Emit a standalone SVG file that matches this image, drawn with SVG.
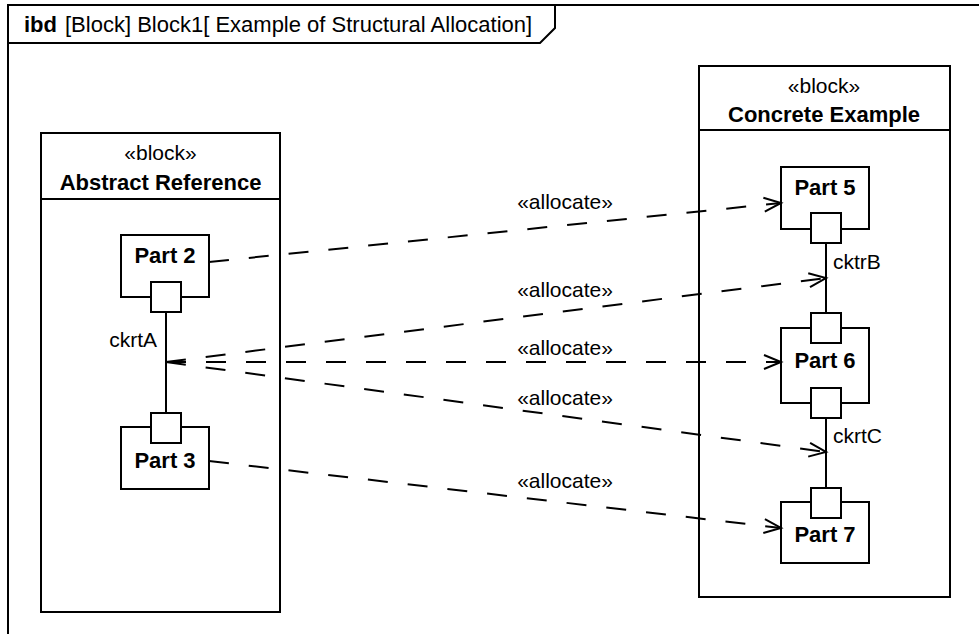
<svg xmlns="http://www.w3.org/2000/svg" width="979" height="634" viewBox="0 0 979 634">
  <style>
    .box { fill: #fff; stroke: #000; stroke-width: 2; }
    .ln { fill: none; stroke: #000; stroke-width: 2; }
    .dash { fill: none; stroke: #000; stroke-width: 2; stroke-dasharray: 20 20; }
    .t { font-family: "Liberation Sans", Arial, sans-serif; font-size: 21px; fill: #000; }
    .b { font-family: "Liberation Sans", Arial, sans-serif; font-size: 22px; font-weight: bold; fill: #000; }
    .c { text-anchor: middle; }
  </style>
  <defs>
    <marker id="open" markerUnits="userSpaceOnUse" markerWidth="24" markerHeight="20" viewBox="-20 -10 24 20" refX="0" refY="0" orient="auto">
      <path d="M-17,-7 L0,0 L-17,7" fill="none" stroke="#000" stroke-width="2"/>
    </marker>
  </defs>
  <rect width="979" height="634" fill="#fff"/>

  <g id="frame">
    <rect x="8" y="5" width="1000" height="1000" fill="none" stroke="#000" stroke-width="2"/>
    <path class="ln" d="M8,43 H540 L555,28 V5"/>
    <text class="b" x="24" y="32">ibd</text>
    <text class="t" x="65" y="32" style="font-size:22px">[Block] Block1[ Example of Structural Allocation]</text>
  </g>

  <g id="abstract-reference">
    <rect class="box" x="41" y="133" width="239" height="479"/>
    <line class="ln" x1="41" y1="199" x2="280" y2="199"/>
    <text class="t c" x="160.5" y="160">«block»</text>
    <text class="b c" x="160.5" y="190">Abstract Reference</text>
  </g>

  <g id="part2">
    <rect class="box" x="121" y="235" width="88" height="62"/>
    <rect class="box" x="151" y="282" width="30" height="30"/>
    <text class="b c" x="165" y="263">Part 2</text>
  </g>

  <g id="part3">
    <rect class="box" x="121" y="427" width="88" height="62"/>
    <rect class="box" x="151" y="413" width="30" height="30"/>
    <text class="b c" x="165" y="468">Part 3</text>
  </g>

  <g id="concrete-example">
    <rect class="box" x="699" y="66" width="251" height="531"/>
    <line class="ln" x1="699" y1="130" x2="950" y2="130"/>
    <text class="t c" x="824" y="93">«block»</text>
    <text class="b c" x="824" y="122">Concrete Example</text>
  </g>

  <g id="part5">
    <rect class="box" x="781" y="167" width="88" height="62"/>
    <rect class="box" x="811" y="213" width="30" height="30"/>
    <text class="b c" x="825" y="195">Part 5</text>
  </g>

  <g id="part6">
    <rect class="box" x="781" y="328" width="88" height="75"/>
    <rect class="box" x="811" y="313" width="30" height="30"/>
    <rect class="box" x="811" y="388" width="30" height="30"/>
    <text class="b c" x="825" y="368">Part 6</text>
  </g>

  <g id="part7">
    <rect class="box" x="781" y="502" width="88" height="61"/>
    <rect class="box" x="811" y="488" width="30" height="30"/>
    <text class="b c" x="825" y="542">Part 7</text>
  </g>

  <g id="connectors">
    <line class="ln" x1="166" y1="312" x2="166" y2="413"/>
    <text class="t" x="157" y="347" text-anchor="end">ckrtA</text>
    <line class="ln" x1="826" y1="243" x2="826" y2="313"/>
    <text class="t" x="833" y="269">cktrB</text>
    <line class="ln" x1="826" y1="418" x2="826" y2="488"/>
    <text class="t" x="833" y="443">ckrtC</text>

    <line class="dash" x1="209" y1="262" x2="781" y2="203" marker-end="url(#open)"/>
    <text class="t c" x="565" y="209">«allocate»</text>
    <line class="dash" x1="166" y1="362" x2="826" y2="278" marker-end="url(#open)"/>
    <text class="t c" x="565" y="297">«allocate»</text>
    <line class="dash" x1="166" y1="362" x2="781" y2="362" marker-end="url(#open)"/>
    <text class="t c" x="565" y="355">«allocate»</text>
    <line class="dash" x1="166" y1="362" x2="826" y2="452" marker-end="url(#open)"/>
    <text class="t c" x="565" y="405">«allocate»</text>
    <line class="dash" x1="209" y1="461" x2="781" y2="528" marker-end="url(#open)"/>
    <text class="t c" x="565" y="488">«allocate»</text>
  </g>
</svg>
